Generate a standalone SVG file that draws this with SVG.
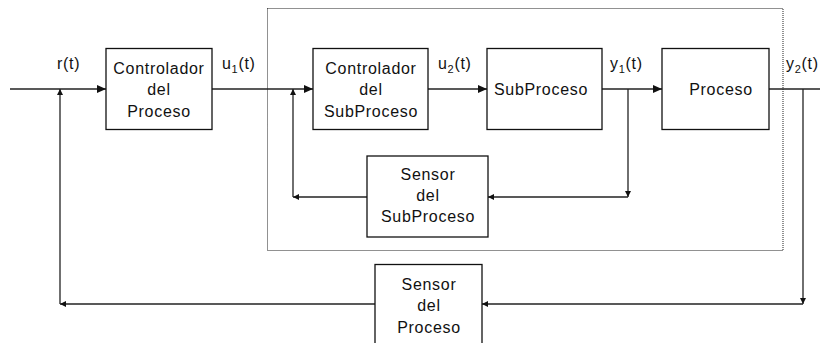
<svg xmlns="http://www.w3.org/2000/svg" width="820" height="343" viewBox="0 0 820 343">
  <style>
    .box { fill: #fff; stroke: #111; stroke-width: 1.3; }
    .wire { fill: none; stroke: #222; stroke-width: 1.3; }
    .frame { fill: none; stroke: #222; stroke-width: 1; stroke-dasharray: 1 1; }
    text { font-family: "Liberation Sans", Arial, sans-serif; font-size: 16px; fill: #111; letter-spacing: 0.7px; }
    .c { text-anchor: middle; }
    .sub { font-size: 11px; }
  </style>
  <defs>
    <marker id="big" markerUnits="userSpaceOnUse" markerWidth="10" markerHeight="9" refX="9" refY="4" orient="auto">
      <path d="M0,0 L9,4 L0,8 z" fill="#111"/>
    </marker>
    <marker id="small" markerUnits="userSpaceOnUse" markerWidth="7" markerHeight="7" refX="6" refY="3" orient="auto">
      <path d="M0,0 L6,3 L0,6 z" fill="#111"/>
    </marker>
  </defs>
  <rect width="820" height="343" fill="#fff"/>

  <rect id="subsystem-frame" class="frame" x="267.5" y="8.5" width="515.5" height="242"/>

  <g id="connectors">
    <line class="wire" x1="10" y1="89" x2="106" y2="89" marker-end="url(#big)"/>
    <line class="wire" x1="212" y1="89" x2="313" y2="89" marker-end="url(#big)"/>
    <line class="wire" x1="428" y1="89" x2="487" y2="89" marker-end="url(#big)"/>
    <line class="wire" x1="602" y1="89" x2="662" y2="89" marker-end="url(#big)"/>
    <line class="wire" x1="769" y1="89" x2="820" y2="89"/>
    <!-- inner feedback -->
    <line class="wire" x1="628" y1="89" x2="628" y2="197" marker-end="url(#small)"/>
    <line class="wire" x1="628" y1="197" x2="488" y2="197" marker-end="url(#small)"/>
    <line class="wire" x1="367" y1="197" x2="293" y2="197" marker-end="url(#small)"/>
    <line class="wire" x1="293" y1="197" x2="293" y2="89" marker-end="url(#small)"/>
    <!-- outer feedback -->
    <line class="wire" x1="803" y1="89" x2="803" y2="304" marker-end="url(#small)"/>
    <line class="wire" x1="803" y1="304" x2="482" y2="304" marker-end="url(#small)"/>
    <line class="wire" x1="375" y1="304" x2="60" y2="304" marker-end="url(#small)"/>
    <line class="wire" x1="60" y1="304" x2="60" y2="89" marker-end="url(#small)"/>
  </g>

  <g id="labels">
    <text x="57" y="69">r(t)</text>
    <text x="222" y="69">u<tspan class="sub" dy="4">1</tspan><tspan dy="-4">(t)</tspan></text>
    <text x="438" y="69">u<tspan class="sub" dy="4">2</tspan><tspan dy="-4">(t)</tspan></text>
    <text x="610" y="69">y<tspan class="sub" dy="4">1</tspan><tspan dy="-4">(t)</tspan></text>
    <text x="786" y="69">y<tspan class="sub" dy="4">2</tspan><tspan dy="-4">(t)</tspan></text>
  </g>

  <g id="controlador-proceso">
    <rect class="box" x="106" y="48.5" width="106" height="81"/>
    <text class="c" x="159" y="73.5">Controlador</text>
    <text class="c" x="159" y="95">del</text>
    <text class="c" x="159" y="116.5">Proceso</text>
  </g>

  <g id="controlador-subproceso">
    <rect class="box" x="313" y="48.5" width="115" height="81"/>
    <text class="c" x="371" y="73.5">Controlador</text>
    <text class="c" x="371" y="95">del</text>
    <text class="c" x="371" y="116.5">SubProceso</text>
  </g>

  <g id="subproceso">
    <rect class="box" x="487" y="48.5" width="115" height="81"/>
    <text class="c" x="541" y="95">SubProceso</text>
  </g>

  <g id="proceso">
    <rect class="box" x="662" y="48.5" width="107" height="81"/>
    <text class="c" x="721" y="95">Proceso</text>
  </g>

  <g id="sensor-subproceso">
    <rect class="box" x="367" y="156" width="121" height="81"/>
    <text class="c" x="428" y="179.5">Sensor</text>
    <text class="c" x="428" y="200.5">del</text>
    <text class="c" x="428" y="222">SubProceso</text>
  </g>

  <g id="sensor-proceso">
    <rect class="box" x="375" y="264.5" width="107" height="100"/>
    <text class="c" x="429" y="290">Sensor</text>
    <text class="c" x="429" y="311">del</text>
    <text class="c" x="429" y="332.5">Proceso</text>
  </g>
</svg>
